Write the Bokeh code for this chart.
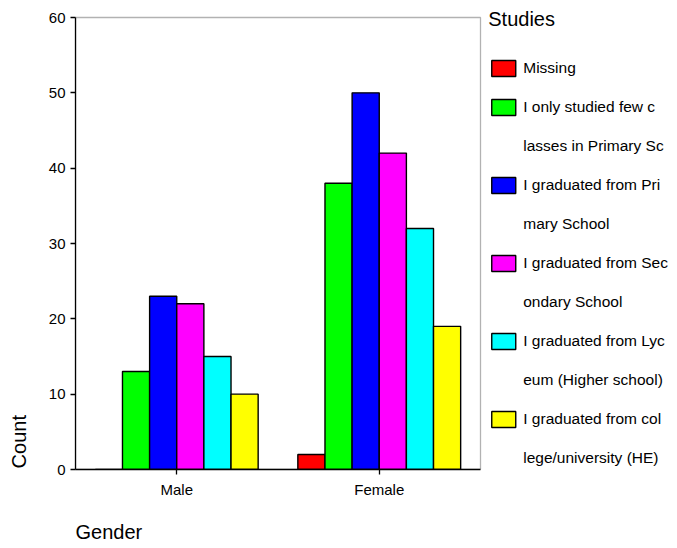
from bokeh.plotting import figure
from bokeh.models import (Range1d, Legend, LegendItem, ColumnDataSource,
                          FixedTicker, BoxAnnotation)
from bokeh.transform import dodge
from bokeh.embed import file_html
from bokeh.resources import INLINE

genders = ["Male", "Female"]
study_lines = [
    ["Missing"],
    ["I only studied few c", "lasses in Primary Sc"],
    ["I graduated from Pri", "mary School"],
    ["I graduated from Sec", "ondary School"],
    ["I graduated from Lyc", "eum (Higher school)"],
    ["I graduated from col", "lege/university (HE)"],
]
missing = [0, 2]
few_classes = [13, 38]
primary = [23, 50]
secondary = [22, 42]
lyceum = [15, 32]
college = [10, 19]
series = [missing, few_classes, primary, secondary, lyceum, college]
colors = ["#FF0000", "#00FF00", "#0000FF", "#FF00FF", "#00FFFF", "#FFFF00"]
y_ticks = [0, 10, 20, 30, 40, 50, 60]
y_max = 60
x_title = "Gender"
y_title = "Count"

FONT = "Liberation Sans"
W, H = 676, 546
FRAME_L, FRAME_T, FRAME_B, BR = 75, 1, 469, 1
CAT_PX = 202.5          # pixel width of one gender category
Y_TOP_PX = 17           # pixel row of y = 60
px_per_unit = (FRAME_B - Y_TOP_PX) / y_max
y_end = y_max + (Y_TOP_PX - FRAME_T) / px_per_unit
x_end = (W - FRAME_L - BR) / CAT_PX
n_cat = len(genders)
cat_centers = [i + 0.5 for i in range(n_cat)]

p = figure(
    x_range=Range1d(0, x_end),
    y_range=Range1d(0, y_end),
    width=W, height=H,
    output_backend="svg", toolbar_location=None,
    min_border_left=FRAME_L, min_border_right=BR,
    min_border_top=FRAME_T, min_border_bottom=H - FRAME_B,
)
p.background_fill_color = "white"
p.border_fill_color = "white"
p.outline_line_color = None
p.xgrid.visible = False
p.ygrid.visible = False

w = 0.134
items = []
for i, (lines, vals, col) in enumerate(zip(study_lines, series, colors)):
    src = ColumnDataSource(dict(x=cat_centers, top=vals))
    r = p.vbar(x=dodge("x", (i - 2.5) * w), top="top", width=w,
               source=src, fill_color=col, line_color="black", line_width=1.4)
    items.append(LegendItem(label=lines[0], renderers=[r]))
    for extra in lines[1:]:
        blank = p.vbar(x=[], top=[], width=w, fill_color=None, line_color=None)
        items.append(LegendItem(label=extra, renderers=[blank]))

p.add_layout(BoxAnnotation(left=0, right=n_cat, bottom=0, top=y_max,
                           fill_color=None, fill_alpha=0,
                           line_color="black", line_width=1.3))

for ax in (p.xaxis[0], p.yaxis[0]):
    ax.axis_line_color = "black"
    ax.axis_line_width = 1.3
    ax.major_tick_line_color = "black"
    ax.major_tick_line_width = 1.3
    ax.major_tick_out = 5
    ax.major_tick_in = 0
    ax.minor_tick_line_color = None
    ax.major_label_text_font = FONT
    ax.major_label_text_font_size = "15px"
    ax.major_label_text_color = "black"
    ax.major_label_standoff = 5
    ax.axis_label_text_font = FONT
    ax.axis_label_text_font_size = "20px"
    ax.axis_label_text_font_style = "normal"
    ax.axis_label_text_color = "black"
    ax.axis_label_align = "start"

NBSP = "\u00a0"
p.yaxis[0].ticker = FixedTicker(ticks=y_ticks)
p.yaxis[0].bounds = (0, y_max)
p.yaxis[0].axis_label = NBSP * 10 + y_title
p.yaxis[0].axis_label_standoff = 16
p.xaxis[0].ticker = FixedTicker(ticks=cat_centers)
p.xaxis[0].major_label_overrides = {c: g for c, g in zip(cat_centers, genders)}
p.xaxis[0].bounds = (0, n_cat)
p.xaxis[0].major_label_standoff = 6
p.xaxis[0].axis_label = NBSP * 12 + x_title
p.xaxis[0].axis_label_standoff = 20

legend = Legend(items=items, location="top_right")
legend.title = "Studies"
legend.title_text_font = FONT
legend.title_text_font_size = "20px"
legend.title_text_font_style = "normal"
legend.title_text_color = "black"
legend.title_standoff = 27
legend.label_text_font = FONT
legend.label_text_font_size = "15.5px"
legend.label_text_color = "black"
legend.glyph_width = 30
legend.glyph_height = 20
legend.label_standoff = 5
legend.spacing = 19
legend.padding = 0
legend.margin = 7
legend.border_line_color = None
legend.background_fill_alpha = 0
p.add_layout(legend, "center")

open("out.html", "w").write(file_html(p, INLINE))
